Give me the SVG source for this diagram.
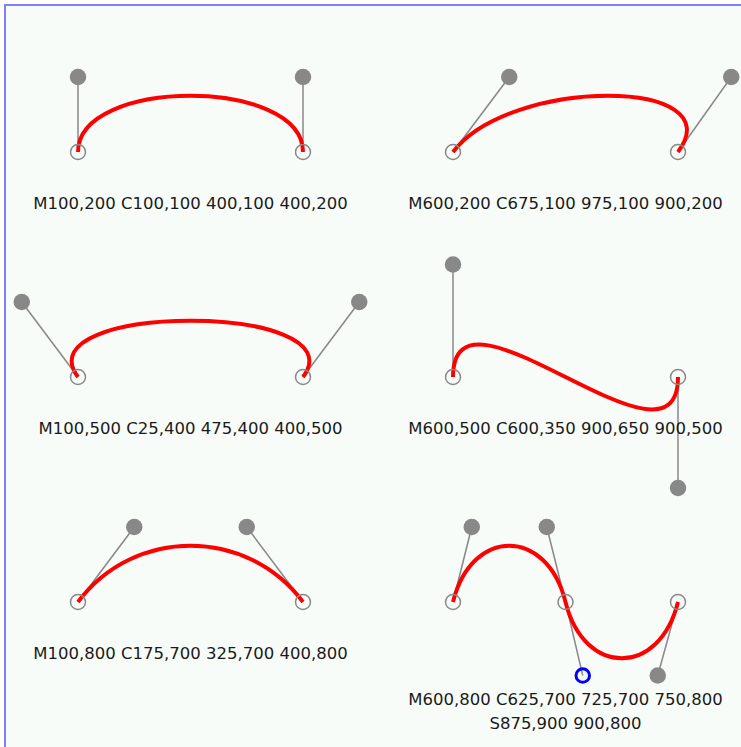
<svg xmlns="http://www.w3.org/2000/svg" width="741" height="747" viewBox="0 0 741 747">
<style>
.curve{fill:none;stroke:#ff0000;stroke-width:5.3}
.ctl{fill:none;stroke:#888888;stroke-width:2}
.cp{fill:#888888;stroke:none}
.ep{fill:none;stroke:#888888;stroke-width:2}
.ref{fill:none;stroke:#0000ff;stroke-width:4}
.lbl{font-family:"DejaVu Sans",Verdana,sans-serif;font-size:22px;fill:#1a1a1a;text-anchor:middle}
</style>
<rect x="0" y="0" width="741" height="747" fill="#ffffff"/>
<rect x="5" y="5" width="800" height="800" fill="#f8fcf8" stroke="#8080ff" stroke-width="2"/>
<g transform="translate(3,2) scale(0.75)">
<g id="panel1">
<polyline class="ctl" points="100,200 100,100"/>
<polyline class="ctl" points="400,200 400,100"/>
<path class="curve" d="M100,200 C100,100 400,100 400,200"/>
<circle class="ep" cx="100" cy="200" r="10"/>
<circle class="ep" cx="400" cy="200" r="10"/>
<circle class="cp" cx="100" cy="100" r="11"/>
<circle class="cp" cx="400" cy="100" r="11"/>
<text class="lbl" x="250" y="276">M100,200 C100,100 400,100 400,200</text>
</g>
<g id="panel2">
<polyline class="ctl" points="600,200 675,100"/>
<polyline class="ctl" points="900,200 971,100"/>
<path class="curve" d="M600,200 C675,100 975,100 900,200"/>
<circle class="ep" cx="600" cy="200" r="10"/>
<circle class="ep" cx="900" cy="200" r="10"/>
<circle class="cp" cx="675" cy="100" r="11"/>
<circle class="cp" cx="971" cy="100" r="11"/>
<text class="lbl" x="750" y="276">M600,200 C675,100 975,100 900,200</text>
</g>
<g id="panel3">
<polyline class="ctl" points="100,500 25,400"/>
<polyline class="ctl" points="400,500 475,400"/>
<path class="curve" d="M100,500 C25,400 475,400 400,500"/>
<circle class="ep" cx="100" cy="500" r="10"/>
<circle class="ep" cx="400" cy="500" r="10"/>
<circle class="cp" cx="25" cy="400" r="11"/>
<circle class="cp" cx="475" cy="400" r="11"/>
<text class="lbl" x="250" y="576">M100,500 C25,400 475,400 400,500</text>
</g>
<g id="panel4">
<polyline class="ctl" points="600,500 600,350"/>
<polyline class="ctl" points="900,500 900,650"/>
<path class="curve" d="M600,500 C600,350 900,650 900,500"/>
<circle class="ep" cx="600" cy="500" r="10"/>
<circle class="ep" cx="900" cy="500" r="10"/>
<circle class="cp" cx="600" cy="350" r="11"/>
<circle class="cp" cx="900" cy="648" r="11"/>
<text class="lbl" x="750" y="576">M600,500 C600,350 900,650 900,500</text>
</g>
<g id="panel5">
<polyline class="ctl" points="100,800 175,700"/>
<polyline class="ctl" points="400,800 325,700"/>
<path class="curve" d="M100,800 C175,700 325,700 400,800"/>
<circle class="ep" cx="100" cy="800" r="10"/>
<circle class="ep" cx="400" cy="800" r="10"/>
<circle class="cp" cx="175" cy="700" r="11"/>
<circle class="cp" cx="325" cy="700" r="11"/>
<text class="lbl" x="250" y="876">M100,800 C175,700 325,700 400,800</text>
</g>
<g id="panel6">
<polyline class="ctl" points="600,800 625,700"/>
<polyline class="ctl" points="725,700 750,800 773,898"/>
<polyline class="ctl" points="900,800 873,898"/>
<path class="curve" d="M600,800 C625,700 725,700 750,800 S875,900 900,800"/>
<circle class="ep" cx="600" cy="800" r="10"/>
<circle class="ep" cx="750" cy="800" r="10"/>
<circle class="ep" cx="900" cy="800" r="10"/>
<circle class="cp" cx="625" cy="700" r="11"/>
<circle class="cp" cx="725" cy="700" r="11"/>
<circle class="cp" cx="873" cy="898" r="11"/>
<circle class="ref" cx="773" cy="898" r="9"/>
<text class="lbl" x="750" y="937">M600,800 C625,700 725,700 750,800</text>
<text class="lbl" x="750" y="969">S875,900 900,800</text>
</g>
</g>
</svg>
